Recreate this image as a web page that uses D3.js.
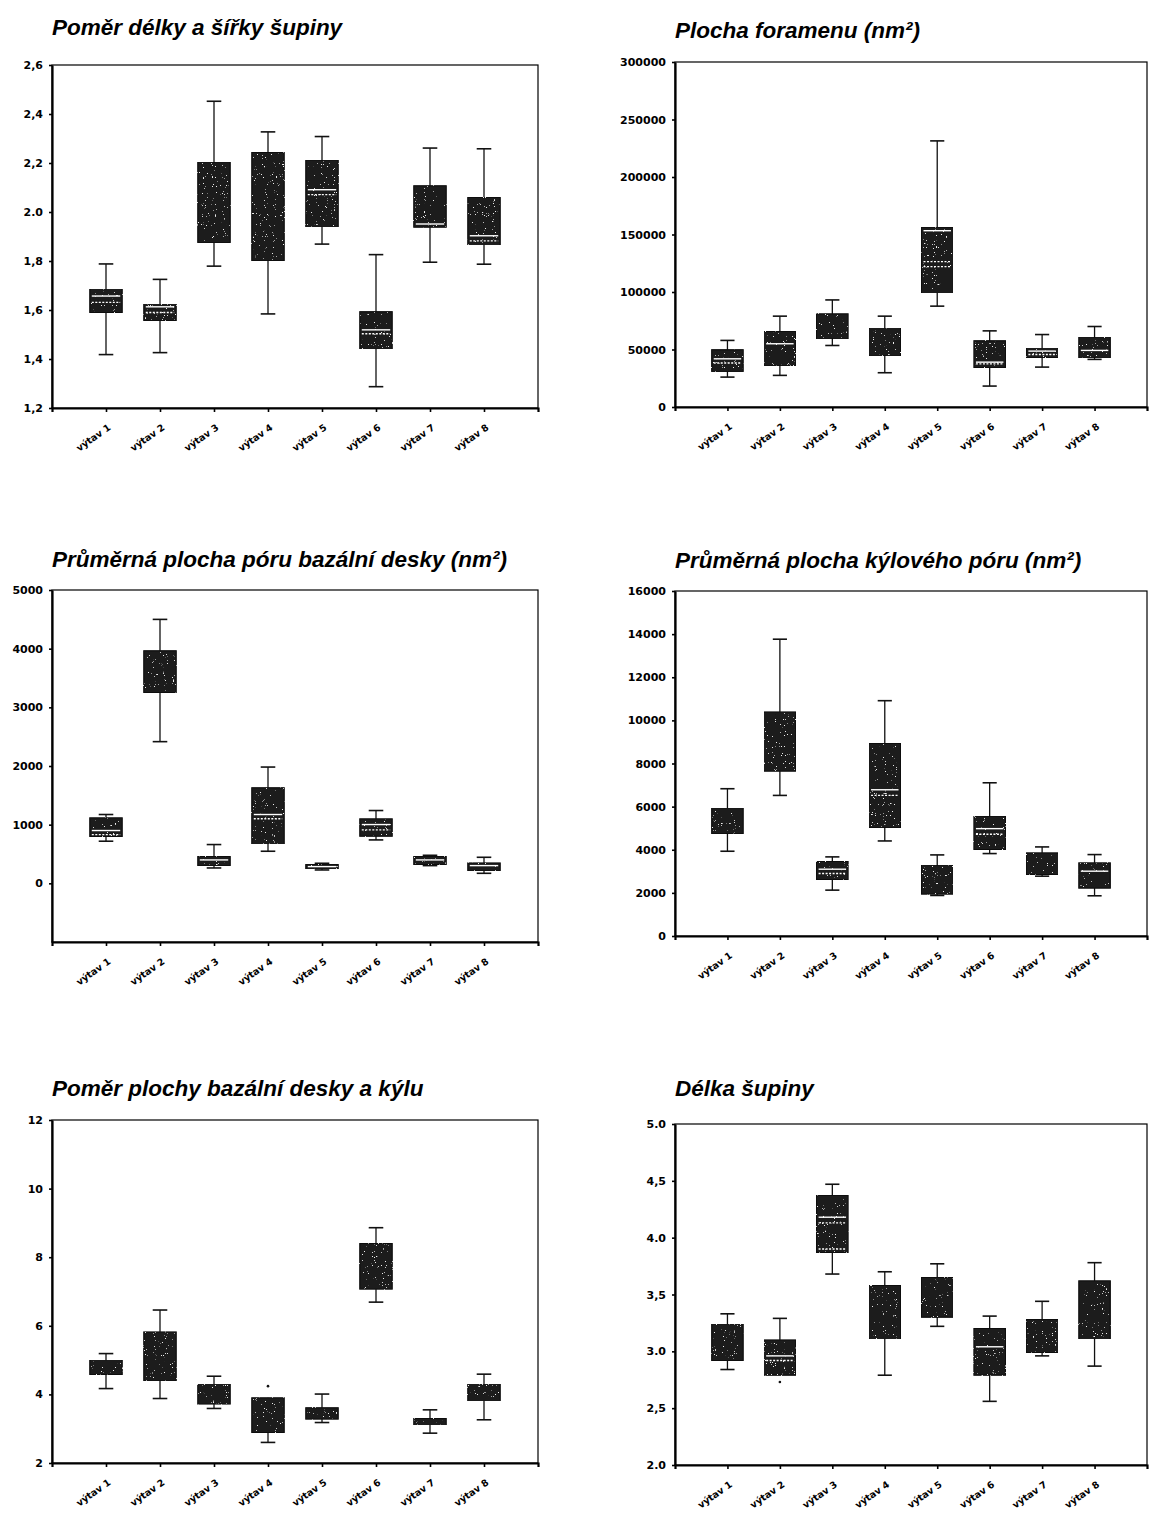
<!DOCTYPE html>
<html>
<head>
<meta charset="utf-8">
<script src="https://cdn.jsdelivr.net/npm/d3@7"></script>
<style>
  body { margin: 0; background: #fff; }
  svg { display: block; }
  .title { font-family: "Liberation Sans", Arial, sans-serif; font-weight: bold; font-style: italic; font-size: 22.5px; }
  .tick text { font-family: "DejaVu Sans", sans-serif; font-weight: bold; font-size: 11px; fill: #000; }
  .xax .tick text { font-size: 9.5px; }
</style>
</head>
<body>
<svg id="fig" width="1149" height="1513"></svg>
<script>
const categories = ['výtav 1', 'výtav 2', 'výtav 3', 'výtav 4', 'výtav 5', 'výtav 6', 'výtav 7', 'výtav 8'];

// each box: [lower whisker, q1, q3, upper whisker]; *Lines = white lines inside box (median / mean)
const lwRatioBox = [
  [1.418, 1.590, 1.685, 1.788],
  [1.426, 1.557, 1.624, 1.725],
  [1.779, 1.876, 2.203, 2.452],
  [1.584, 1.802, 2.243, 2.327],
  [1.869, 1.939, 2.211, 2.308],
  [1.287, 1.441, 1.593, 1.826],
  [1.795, 1.938, 2.107, 2.261],
  [1.787, 1.866, 2.059, 2.258]
];
const lwRatioLines = [[1.657, 1.631], [1.613, 1.590], [], [], [2.091, 2.071], [1.519, 1.503], [1.951], [1.903, 1.882]];
const lwRatioTicks = [1.2, 1.4, 1.6, 1.8, 2.0, 2.2, 2.4, 2.6];
const lwRatioLabels = ['1,2', '1,4', '1,6', '1,8', '2.0', '2,2', '2,4', '2,6'];

const foramenBox = [
  [26000, 31000, 49800, 57900],
  [27500, 36200, 65700, 79000],
  [53500, 59300, 81000, 93100],
  [29800, 44600, 68600, 79000],
  [87700, 99200, 156200, 231400],
  [18200, 34400, 57600, 66200],
  [34700, 43100, 51200, 63000],
  [41400, 42800, 60700, 70000]
];
const foramenLines = [[41900, 38200], [55000], [], [], [153300, 126400, 122100], [39000, 37500], [48600, 45700], [49200]];
const foramenTicks = [0, 50000, 100000, 150000, 200000, 250000, 300000];

const basalPoreBox = [
  [718, 797, 1116, 1173],
  [2415, 3252, 3964, 4499],
  [262, 302, 456, 661],
  [547, 672, 1629, 1982],
  [228, 245, 319, 342],
  [740, 803, 1099, 1241],
  [302, 319, 456, 478],
  [171, 216, 347, 444]
];
const basalPoreLines = [[900, 830], [], [399], [1173, 1100], [285], [1002, 911], [399], [302]];
const basalPoreTicks = [0, 1000, 2000, 3000, 4000, 5000];

const keelPoreBox = [
  [3931, 4748, 5935, 6830],
  [6520, 7645, 10389, 13765],
  [2127, 2620, 3453, 3669],
  [4408, 5025, 8925, 10913],
  [1880, 1942, 3283, 3761],
  [3823, 4008, 5549, 7106],
  [2775, 2852, 3854, 4131],
  [1865, 2220, 3391, 3776]
];
const keelPoreLines = [[], [], [3098, 2898], [6782, 6520], [], [4979, 4717], [], [3006]];
const keelPoreTicks = [0, 2000, 4000, 6000, 8000, 10000, 12000, 14000, 16000];

const areaRatioBox = [
  [4.17, 4.58, 5.00, 5.19],
  [3.88, 4.40, 5.82, 6.46],
  [3.59, 3.72, 4.30, 4.53],
  [2.60, 2.89, 3.90, 3.90],
  [3.18, 3.28, 3.61, 4.01],
  [6.69, 7.07, 8.40, 8.86],
  [2.87, 3.11, 3.30, 3.55],
  [3.26, 3.81, 4.30, 4.59]
];
const areaRatioLines = [[], [], [], [], [], [], [], []];
const areaRatioOutliers = [[], [], [], [4.24], [], [], [], []];
const areaRatioTicks = [2, 4, 6, 8, 10, 12];

const lengthBox = [
  [2.84, 2.92, 3.24, 3.33],
  [2.79, 2.79, 3.10, 3.29],
  [3.68, 3.87, 4.37, 4.47],
  [2.79, 3.11, 3.58, 3.70],
  [3.22, 3.30, 3.65, 3.77],
  [2.56, 2.79, 3.20, 3.31],
  [2.96, 2.99, 3.28, 3.44],
  [2.87, 3.11, 3.62, 3.78]
];
const lengthLines = [[], [2.96, 2.92], [4.18, 4.13, 3.90], [], [], [3.04], [], []];
const lengthOutliers = [[], [2.73], [], [], [], [], [], []];
const lengthTicks = [2.0, 2.5, 3.0, 3.5, 4.0, 4.5, 5.0];
const lengthLabels = ['2.0', '2,5', '3.0', '3,5', '4.0', '4,5', '5.0'];

const svg = d3.select('#fig');

// sparse white speckles, like the scanned halftone of the boxes
const filt = svg.append('defs').append('filter').attr('id', 'speckle')
  .attr('x', 0).attr('y', 0).attr('width', 1).attr('height', 1);
filt.append('feTurbulence').attr('type', 'fractalNoise').attr('baseFrequency', 0.9)
  .attr('numOctaves', 2).attr('seed', 4).attr('result', 'noise');
filt.append('feColorMatrix').attr('in', 'noise').attr('type', 'matrix')
  .attr('values', '0 0 0 0 0.85  0 0 0 0 0.85  0 0 0 0 0.85  16 0 0 0 -11.4').attr('result', 'dots');
filt.append('feComposite').attr('in', 'dots').attr('in2', 'SourceGraphic').attr('operator', 'in').attr('result', 'dots2');
const merge = filt.append('feMerge');
merge.append('feMergeNode').attr('in', 'SourceGraphic');
merge.append('feMergeNode').attr('in', 'dots2');

const charts = [
  { title: 'Poměr délky a šířky šupiny', box: lwRatioBox, lines: lwRatioLines, out: null,
    domain: [1.2, 2.6], ticks: lwRatioTicks, labels: lwRatioLabels,
    left: 52, right: 538, top: 65, bottom: 408, titleY: 35 },
  { title: 'Plocha foramenu (nm²)', box: foramenBox, lines: foramenLines, out: null,
    domain: [0, 300000], ticks: foramenTicks, labels: null,
    left: 675, right: 1147, top: 62, bottom: 407, titleY: 38 },
  { title: 'Průměrná plocha póru bazální desky (nm²)', box: basalPoreBox, lines: basalPoreLines, out: null,
    domain: [-1000, 5000], ticks: basalPoreTicks, labels: null,
    left: 52, right: 538, top: 590, bottom: 942, titleY: 567 },
  { title: 'Průměrná plocha kýlového póru (nm²)', box: keelPoreBox, lines: keelPoreLines, out: null,
    domain: [0, 16000], ticks: keelPoreTicks, labels: null,
    left: 675, right: 1147, top: 591, bottom: 936, titleY: 568 },
  { title: 'Poměr plochy bazální desky a kýlu', box: areaRatioBox, lines: areaRatioLines, out: areaRatioOutliers,
    domain: [2, 12], ticks: areaRatioTicks, labels: null,
    left: 52, right: 538, top: 1120, bottom: 1463, titleY: 1096 },
  { title: 'Délka šupiny', box: lengthBox, lines: lengthLines, out: lengthOutliers,
    domain: [2, 5], ticks: lengthTicks, labels: lengthLabels,
    left: 675, right: 1147, top: 1124, bottom: 1465, titleY: 1096 }
];

charts.forEach(c => {
  const g = svg.append('g');
  const x = d3.scalePoint().domain(categories).range([c.left, c.right]).padding(1);
  const y = d3.scaleLinear().domain(c.domain).range([c.bottom, c.top]);
  const step = x.step();
  const bw = step * 0.6, cw = step * 0.27;

  g.append('text').attr('class', 'title').attr('x', c.left).attr('y', c.titleY).text(c.title);

  // frame
  g.append('rect').attr('x', c.left).attr('y', c.top)
    .attr('width', c.right - c.left).attr('height', c.bottom - c.top)
    .attr('fill', 'none').attr('stroke', '#000').attr('stroke-width', 1.2);

  const rows = c.box.map((b, i) => ({ cat: categories[i], b, lines: c.lines[i], out: c.out ? c.out[i] : [] }));
  const bx = g.selectAll('.bx').data(rows).join('g').attr('class', 'bx');

  // whiskers
  bx.append('line').attr('x1', d => x(d.cat)).attr('x2', d => x(d.cat))
    .attr('y1', d => y(d.b[0])).attr('y2', d => y(d.b[3]))
    .attr('stroke', '#111').attr('stroke-width', 1.3);
  [0, 3].forEach(k => {
    bx.filter(d => d.b[k] !== d.b[k === 0 ? 1 : 2]).append('line')
      .attr('x1', d => x(d.cat) - cw / 2).attr('x2', d => x(d.cat) + cw / 2)
      .attr('y1', d => y(d.b[k])).attr('y2', d => y(d.b[k]))
      .attr('stroke', '#111').attr('stroke-width', 1.6);
  });

  // boxes
  bx.append('rect').attr('x', d => x(d.cat) - bw / 2).attr('width', bw)
    .attr('y', d => y(d.b[2])).attr('height', d => Math.max(2, y(d.b[1]) - y(d.b[2])))
    .attr('fill', '#1e1e1e').attr('stroke', '#111').attr('stroke-width', 1.2)
    .attr('filter', 'url(#speckle)');

  // white median / mean lines
  bx.selectAll('.ml').data(d => d.lines.map((v, j) => ({ cat: d.cat, v, j }))).join('line')
    .attr('class', 'ml')
    .attr('x1', d => x(d.cat) - bw / 2 + 2).attr('x2', d => x(d.cat) + bw / 2 - 2)
    .attr('y1', d => y(d.v)).attr('y2', d => y(d.v))
    .attr('stroke', '#fff').attr('stroke-width', 1.4)
    .attr('stroke-dasharray', d => d.j === 0 ? null : '2,1.5');

  // outlier dots
  bx.selectAll('.od').data(d => d.out.map(v => ({ cat: d.cat, v }))).join('circle')
    .attr('class', 'od').attr('cx', d => x(d.cat)).attr('cy', d => y(d.v)).attr('r', 1.3).attr('fill', '#111');

  // axes
  const yAxis = d3.axisLeft(y).tickValues(c.ticks).tickSize(3).tickSizeOuter(0)
    .tickFormat((d, i) => c.labels ? c.labels[i] : d3.format('d')(d));
  const ya = g.append('g').attr('transform', `translate(${c.left},0)`).call(yAxis);
  ya.select('.domain').attr('stroke-width', 2.2);
  ya.selectAll('.tick line').attr('stroke-width', 1.6);
  ya.selectAll('.tick text').attr('x', -9);

  const xAxis = d3.axisBottom(x).tickSize(4).tickSizeOuter(4);
  const xa = g.append('g').attr('class', 'xax').attr('transform', `translate(0,${c.bottom})`).call(xAxis);
  xa.select('.domain').attr('stroke-width', 2.2);
  xa.selectAll('.tick line').attr('stroke-width', 1.6);
  xa.selectAll('.tick text').attr('x', 0).attr('y', 0).attr('dy', 0)
    .attr('transform', 'translate(5,21) rotate(-35)').style('text-anchor', 'end');
});
</script>
</body>
</html>
